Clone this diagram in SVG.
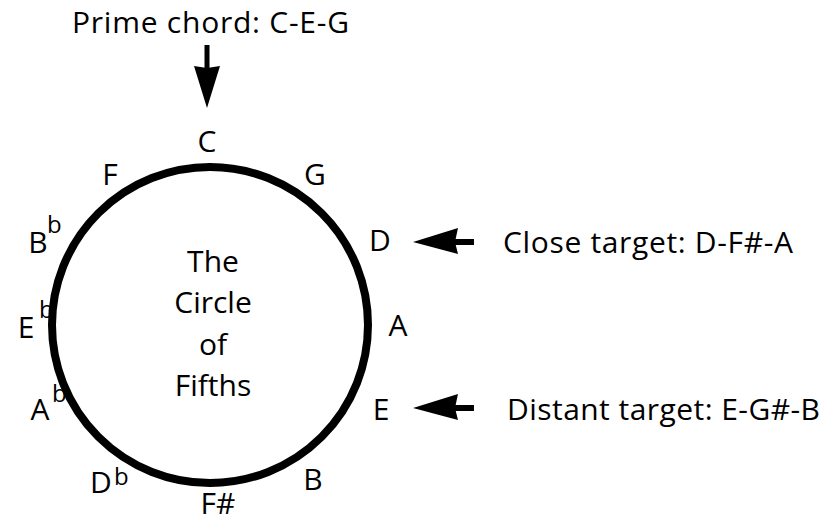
<svg xmlns="http://www.w3.org/2000/svg" width="823" height="524" viewBox="0 0 823 524">
<style>
text{font-family:"Open Sans","Liberation Sans",sans-serif;font-size:30px;fill:#000}
.m{text-anchor:middle}
.fl{font-size:24px;font-weight:500}
</style>
<rect width="823" height="524" fill="#fff"/>
<g id="circle"><circle cx="210" cy="325" r="158" fill="none" stroke="#000" stroke-width="8"/></g>
<g id="center-label">
<text class="m" x="213" y="272">The</text>
<text class="m" x="213" y="313">Circle</text>
<text class="m" x="213" y="355">of</text>
<text class="m" x="213" y="396">Fifths</text>
</g>
<g id="n-C"><text class="m" x="207" y="152">C</text></g>
<g id="n-G"><text class="m" x="315" y="185">G</text></g>
<g id="n-D"><text class="m" x="380" y="251">D</text></g>
<g id="n-A"><text class="m" x="398" y="336">A</text></g>
<g id="n-E"><text class="m" x="381" y="420">E</text></g>
<g id="n-B"><text class="m" x="313" y="490">B</text></g>
<g id="n-Fs"><text class="m" x="218" y="514">F#</text></g>
<g id="n-Db"><text class="m" x="101" y="493">D</text><text class="fl" x="114" y="485">b</text></g>
<g id="n-Ab"><text class="m" x="40" y="420">A</text><text class="fl" x="52" y="402">b</text></g>
<g id="n-Eb"><text class="m" x="26" y="338">E</text><text class="fl" x="39" y="318">b</text></g>
<g id="n-Bb"><text class="m" x="38" y="253">B</text><text class="fl" x="47" y="233">b</text></g>
<g id="n-F"><text class="m" x="110" y="185">F</text></g>
<g id="labels">
<text x="72" y="33" textLength="277">Prime chord: C-E-G</text>
<text x="503" y="253" textLength="290">Close target: D-F#-A</text>
<text x="507" y="420" textLength="313">Distant target: E-G#-B</text>
</g>
<g id="connectors" fill="#000">
<rect x="204.5" y="45" width="5" height="25"/>
<path d="M194 66 L207 68 L220 66 L207 108 Z"/>
<rect x="455" y="239" width="19" height="6"/>
<path d="M413 242 L458 228 L455 242 L458 254 Z"/>
<rect x="455" y="405" width="19" height="6"/>
<path d="M413 408 L458 394 L455 408 L458 420 Z"/>
</g>
</svg>
